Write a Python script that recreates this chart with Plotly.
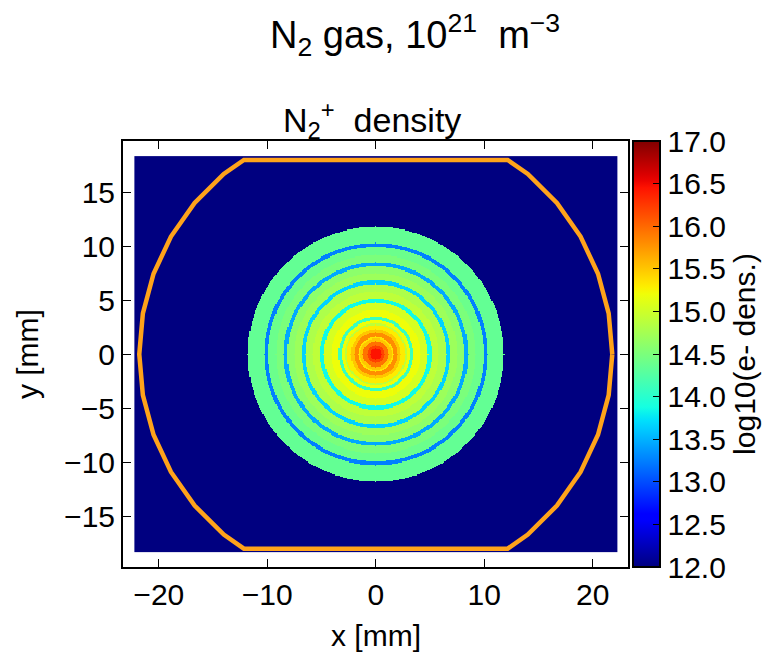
import numpy as np
import plotly.graph_objects as go

# ---------------- data ----------------
# radial bands of log10(N2+ density): outer radius of each band [mm] and its value
band_outer_radius = [0.5, 0.8, 1.2, 1.45, 1.6, 2.0, 2.3, 2.7, 2.85, 3.15, 3.45,
                     4.1, 4.8, 5.15, 5.8, 6.5, 6.85, 7.5, 8.15, 8.5, 9.2, 9.95, 10.3, 11.8]
band_value = [16.45, 16.2, 15.95, 15.5, 15.35, 15.8, 15.5, 15.3, 14.9, 15.2, 14.1,
              15.2, 15.05, 13.85, 14.9, 14.8, 13.65, 14.7, 14.6, 13.45, 14.5, 14.4, 13.25, 14.35]
background_value = 12.0

x_extent = [-22.2, 22.2]      # mm, heatmap extent
y_extent = [-18.3, 18.3]
grid_step = 0.1

wall_radius = 21.8            # mm, orange chamber outline
wall_clip_y = 18.0
wall_step_deg = 10

x_ticks = [-20, -10, 0, 10, 20]
y_ticks = [-15, -10, -5, 0, 5, 10, 15]
cbar_ticks = [12.0, 12.5, 13.0, 13.5, 14.0, 14.5, 15.0, 15.5, 16.0, 16.5, 17.0]

# ---------------- build field ----------------
xs = np.round(np.arange(x_extent[0], x_extent[1] + 1e-9, grid_step), 3)
ys = np.round(np.arange(y_extent[0], y_extent[1] + 1e-9, grid_step), 3)
XX, YY = np.meshgrid(xs, ys)
R = np.hypot(XX, YY)
vals = np.array(band_value + [background_value])
idx = np.searchsorted(np.array(band_outer_radius), R, side="left")
Z = np.round(vals[idx], 2)

# ---------------- chamber outline (polygon clipped at |y| = clip) ----------------
ang = np.deg2rad(np.arange(0, 360 + wall_step_deg, wall_step_deg))
px = wall_radius * np.cos(ang)
py = wall_radius * np.sin(ang)


def clip(xp, yp, limit, upper):
    ox, oy = [], []
    n = len(xp)
    inside = lambda y: (y <= limit) if upper else (y >= limit)
    for i in range(n - 1):
        x1, y1, x2, y2 = xp[i], yp[i], xp[i + 1], yp[i + 1]
        in1, in2 = inside(y1), inside(y2)
        if in1:
            ox.append(x1); oy.append(y1)
        if in1 != in2:
            t = (limit - y1) / (y2 - y1)
            ox.append(x1 + t * (x2 - x1)); oy.append(limit)
    ox.append(ox[0]); oy.append(oy[0])
    return ox, oy


cx, cy = clip(list(px), list(py), wall_clip_y, True)
cx, cy = clip(cx, cy, -wall_clip_y, False)

# ---------------- matplotlib-style jet colorscale ----------------
def jet(v):
    r = np.interp(v, [0, 0.35, 0.66, 0.89, 1], [0, 0, 1, 1, 0.5])
    g = np.interp(v, [0, 0.125, 0.375, 0.64, 0.91, 1], [0, 0, 1, 1, 0, 0])
    b = np.interp(v, [0, 0.11, 0.34, 0.65, 1], [0.5, 1, 1, 0, 0])
    return "rgb(%d,%d,%d)" % (round(r * 255), round(g * 255), round(b * 255))


cs = [[s, jet(s)] for s in np.linspace(0, 1, 65)]

FONT = "Liberation Sans, Arial, sans-serif"

fig = go.Figure()
fig.add_trace(go.Heatmap(
    x=xs, y=ys, z=Z, zmin=12, zmax=17, colorscale=cs, zsmooth=False,
    hoverinfo="skip",
    colorbar=dict(
        x=1.0099, xanchor="left", xpad=0, ypad=0, y=0.5, yanchor="middle",
        len=1, lenmode="fraction", thickness=27, thicknessmode="pixels",
        outlinewidth=2, outlinecolor="black",
        ticks="inside", ticklen=8, tickwidth=1.2, tickcolor="black",
        tickvals=cbar_ticks, ticktext=["%.1f" % t for t in cbar_ticks],
        tickfont=dict(size=30, color="black", family=FONT),
        title=dict(text="log10(e- dens.)", side="right",
                   font=dict(size=30, color="black", family=FONT)),
    ),
))
fig.add_trace(go.Scatter(x=cx, y=cy, mode="lines",
                         line=dict(color="rgb(255,163,26)", width=4.5),
                         hoverinfo="skip", showlegend=False))

axis_common = dict(showgrid=False, zeroline=False, showline=True, linewidth=2,
                   linecolor="black", mirror="ticks", ticks="inside", ticklen=8,
                   tickwidth=1.2, tickcolor="black",
                   tickfont=dict(size=30, color="black", family=FONT))
fig.update_xaxes(range=[-23.3, 23.25], tickvals=x_ticks,
                 ticktext=[str(t).replace("-", "\u2212") for t in x_ticks], **axis_common)
fig.update_yaxes(range=[-19.7, 19.75], tickvals=y_ticks,
                 ticktext=[str(t).replace("-", "\u2212") for t in y_ticks], **axis_common)

ann = [
    dict(text="N<sub>2</sub> gas, 10<sup>21</sup>  m<sup>\u22123</sup>", x=0.578, y=1.249,
         font=dict(size=38)),
    dict(text="N<sub>2</sub><sup>+</sup>  density", x=0.493, y=1.049, font=dict(size=34)),
    dict(text="x [mm]", x=0.5, y=-0.160, font=dict(size=30)),
    dict(text="y [mm]", x=-0.19, y=0.5, font=dict(size=30), textangle=-90),
]
for a in ann:
    a.update(xref="paper", yref="paper", showarrow=False, xanchor="center", yanchor="middle")
    a["font"].update(color="black", family=FONT)
fig.update_layout(
    width=778, height=653,
    margin=dict(l=123, r=150, t=141, b=86),
    paper_bgcolor="white", plot_bgcolor="white",
    showlegend=False, annotations=ann,
)
fig.write_html("out.html")
